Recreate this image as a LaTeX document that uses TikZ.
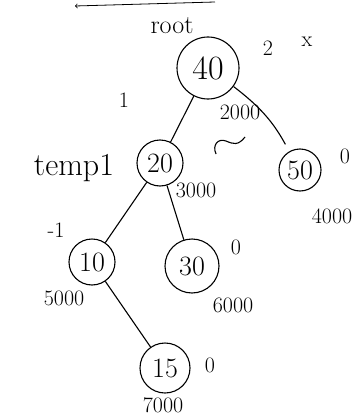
\documentclass[tikz,border=0pt]{standalone}
\usepackage{tikz}
\usetikzlibrary{positioning}

\begin{document}
\begin{tikzpicture}[x=1pt, y=-1pt,
    key/.style={draw, line width=1.1pt, circle, inner sep=0pt, font=\fontsize{28}{28}\selectfont},
    note/.style={font=\fontsize{22}{22}\selectfont}]
    \useasboundingbox (0,0) rectangle (360,420);

    \node[key, minimum size=62pt, font=\fontsize{34}{34}\selectfont] (N40) at (208,68) {40};
    \node[key, minimum size=46pt] (N20) at (160,163) {20};
    \node[key, minimum size=42pt] (N50) at (300,170) {50};
    \node[key, minimum size=46pt] (N10) at (92,262) {10};
    \node[key, minimum size=54pt] (N30) at (192,266) {30};
    \node[key, minimum size=50pt] (N15) at (165,368) {15};

    \draw[line width=1.1pt] (N40) -- (N20);
    \draw[line width=1.1pt, shorten >=8pt] (N40) to[bend left=12] (N50);
    \draw[line width=1.1pt] (N20) -- (N10);
    \draw[line width=1.1pt] (N20) -- (N30);
    \draw[line width=1.1pt] (N10) -- (N15);

    % marks beside the nodes
    \node[note, font=\fontsize{26}{26}\selectfont] (root) at (172,26) {root};
    \node[note] (bal40) at (268,48) {2};
    \node[note] (cross) at (307,42) {x};
    \node[note] (adr40) at (240,112) {2000};
    \node[note, font=\fontsize{32}{32}\selectfont] (temp) at (74,168) {temp1};
    \node[note] (bal20) at (124,100) {1};
    \node[note] (adr20) at (196,190) {3000};
    \node[note] (bal50) at (345,156) {0};
    \node[note] (adr50) at (332,216) {4000};
    \node[note] (bal10) at (56,230) {-1};
    \node[note] (adr10) at (64,298) {5000};
    \node[note] (bal30) at (236,247) {0};
    \node[note] (adr30) at (233,305) {6000};
    \node[note] (bal15) at (210,365) {0};
    \node[note] (adr15) at (163,405) {7000};

    % rotation squiggle
    \draw[line width=1.1pt] (216,154) .. controls (212,145) and (218,138) .. (226,141)
        .. controls (233,144) and (238,146) .. (245,137);

    % stroke on top
    \coordinate (T1) at (75,6);
    \coordinate (T2) at (215,2);
    \draw[thick, <-] (T1) -- (T2);
\end{tikzpicture}
\end{document}
